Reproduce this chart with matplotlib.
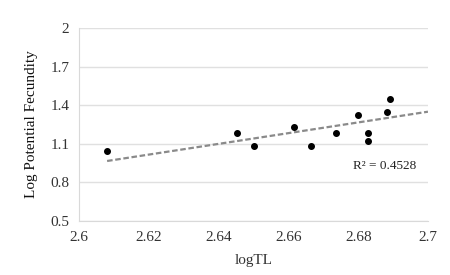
import numpy as np
import matplotlib.pyplot as plt

# log total length vs log potential fecundity
log_tl = [2.608, 2.6453, 2.650, 2.6616, 2.6665, 2.6736, 2.680, 2.6828, 2.6828, 2.6883, 2.689]
log_fec = [1.044, 1.184, 1.083, 1.231, 1.083, 1.184, 1.324, 1.184, 1.122, 1.347, 1.448]
# linear trendline ends as drawn in the source chart
trend_x = [2.608, 2.7]
trend_y = [0.967, 1.350]
r2_text = 'R² = 0.4528'
x_ticks = [2.6, 2.62, 2.64, 2.66, 2.68, 2.7]
y_ticks = [0.5, 0.8, 1.1, 1.4, 1.7, 2]

plt.rcParams['font.family'] = ['Liberation Serif', 'DejaVu Serif']

fig = plt.figure(figsize=(4.5, 2.75), dpi=100)
ax = fig.add_axes([0.176, 0.196, 0.775, 0.702])

ax.plot(trend_x, trend_y, ls=(0, (2.5, 1.2)), color='#8a8a8a', lw=1.6, zorder=2)
ax.plot(log_tl, log_fec, 'o', color='black', ms=4, zorder=3)

ax.text(2.6785, 0.928, r2_text, fontsize=9.5, va='center', ha='left', color='#222222')

ax.set_xlim(2.6, 2.7)
ax.set_ylim(0.5, 2)
ax.set_xticks(x_ticks)
ax.set_xticklabels(['2.6', '2.62', '2.64', '2.66', '2.68', '2.7'])
ax.set_yticks(y_ticks)
ax.set_yticklabels(['0.5', '0.8', '1.1', '1.4', '1.7', '2'])
ax.grid(axis='y', color='#e0e0e0', lw=1)
ax.set_axisbelow(True)
for s in ['top', 'right']:
    ax.spines[s].set_visible(False)
for s in ['left', 'bottom']:
    ax.spines[s].set_color('#d9d9d9')
ax.tick_params(length=0, labelsize=11, colors='#333333', pad=7)

ax.set_xlabel('logTL', fontsize=11, color='#333333', labelpad=7)
ax.set_ylabel('Log Potential Fecundity', fontsize=11, color='#111111', labelpad=9)

fig.savefig('out.png', dpi=100)
